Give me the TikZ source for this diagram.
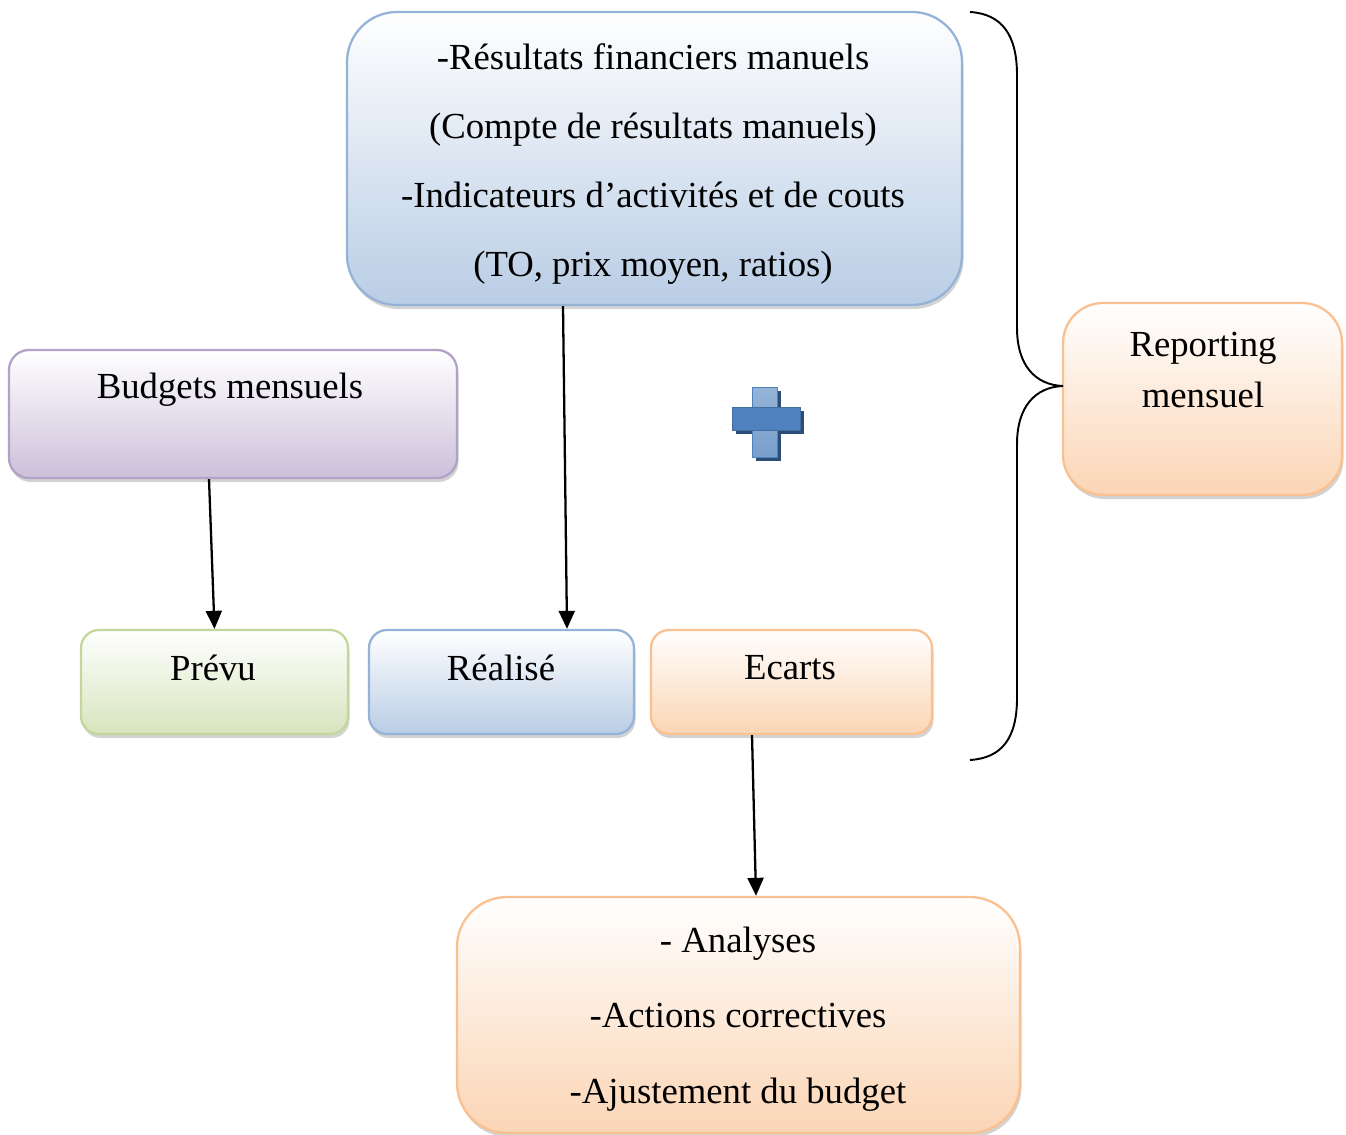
\documentclass[tikz,border=0pt]{standalone}
\usepackage{fontspec}
\setmainfont{Liberation Serif}
\usetikzlibrary{arrows.meta, shadows}

\definecolor{bluefill}{HTML}{B9CDE5}
\definecolor{blueline}{HTML}{95B3D7}
\definecolor{purplefill}{HTML}{CCC0DA}
\definecolor{purpleline}{HTML}{B3A2C7}
\definecolor{greenfill}{HTML}{D7E4BD}
\definecolor{greenline}{HTML}{C3D69B}
\definecolor{orangefill}{HTML}{FBD5B5}
\definecolor{orangeline}{HTML}{FAC090}
\definecolor{plusblue}{HTML}{4F81BD}
\definecolor{pluslight}{HTML}{95B3D7}
\definecolor{plusdark}{HTML}{2C4D75}

\begin{document}
\begin{tikzpicture}[x=0.2mm, y=-0.2mm,
                box/.style = {line width=1.3pt, rounded corners=4mm,
                        drop shadow={shadow xshift=0.3mm, shadow yshift=-0.8mm, opacity=0.35}},
                bluebox/.style = {box, draw=blueline, top color=white, middle color=bluefill!70!white, bottom color=bluefill},
                purplebox/.style = {box, draw=purpleline, top color=white, middle color=purplefill!70!white, bottom color=purplefill},
                greenbox/.style = {box, draw=greenline, top color=white, middle color=greenfill!70!white, bottom color=greenfill},
                orangebox/.style = {box, draw=orangeline, top color=white, middle color=orangefill!70!white, bottom color=orangefill},
                txt/.style = {inner sep=0pt, align=center, font=\fontsize{20.9}{24}\selectfont},
                arr/.style = {-{Triangle[length=3.6mm, width=3.2mm]}, line width=1.3pt}]
                \useasboundingbox (0,0) rectangle (1346,1135);

                \node[bluebox, rounded corners=10mm, minimum width=123mm, minimum height=58.6mm] at (654.5,158.5) (resultats) {};
                \node[purplebox, minimum width=89.6mm, minimum height=25.6mm] at (233,414) (budgets) {};
                \node[greenbox, rounded corners=3.6mm, minimum width=53.4mm, minimum height=20.8mm] at (214.5,682) (prevu) {};
                \node[bluebox, rounded corners=3.6mm, minimum width=53mm, minimum height=20.8mm] at (501.5,682) (realise) {};
                \node[orangebox, rounded corners=3.6mm, minimum width=56.2mm, minimum height=20.8mm] at (791.5,682) (ecarts) {};
                \node[orangebox, rounded corners=8mm, minimum width=55.8mm, minimum height=38.4mm] at (1202.5,399) (reporting) {};
                \node[orangebox, rounded corners=10mm, minimum width=112.6mm, minimum height=47.2mm] at (738.5,1015) (analyses) {};

                \node[txt, font=\fontsize{20.9}{39.3}\selectfont] at (653,164) (resultatstxt)
                        {-Résultats financiers manuels\\(Compte de résultats manuels)\\-Indicateurs d’activités et de couts\\(TO, prix moyen, ratios)};
                \node[txt] at (230,390) (budgetstxt) {Budgets mensuels};
                \node[txt] at (213,668) (prevutxt) {Prévu};
                \node[txt] at (501,668) (realisetxt) {Réalisé};
                \node[txt] at (790,668) (ecartstxt) {Ecarts};
                \node[txt, font=\fontsize{20.9}{28.5}\selectfont] at (1203,370) (reportingtxt) {Reporting\\mensuel};
                \node[txt, font=\fontsize{20.9}{43}\selectfont] at (738,1019) (analysestxt)
                        {- Analyses\\-Actions correctives\\-Ajustement du budget};

                \draw[arr] ([xshift=-4.8mm]budgets.south) -- (prevu.north);
                \draw[arr] ([xshift=-18.3mm]resultats.south) -- ([xshift=13.1mm]realise.north);
                \draw[arr] ([xshift=-7.9mm]ecarts.south) -- ([xshift=3.5mm]analyses.north);

                \fill[plusdark] (756,391) rectangle (781,461);
                \fill[plusdark] (736,411) rectangle (804,434);
                \shade[top color=pluslight, bottom color=pluslight!60!plusblue, draw=plusblue] (752,387) rectangle (777,457);
                \fill[plusblue, draw=plusblue!85!black] (732,407) rectangle (800,430);

                \coordinate (bracetop) at (970,12);
                \coordinate (bracetip) at (1063,386);
                \coordinate (bracebot) at (970,760);
                \draw[line width=1.1pt] (bracetop) .. controls (1002,14) and (1017,35) .. (1017,75) -- (1017,328)
                        .. controls (1017,365) and (1035,385) .. (bracetip)
                        .. controls (1035,387) and (1017,407) .. (1017,444) -- (1017,698)
                        .. controls (1017,738) and (1002,758) .. (bracebot);
            \end{tikzpicture}
\end{document}
